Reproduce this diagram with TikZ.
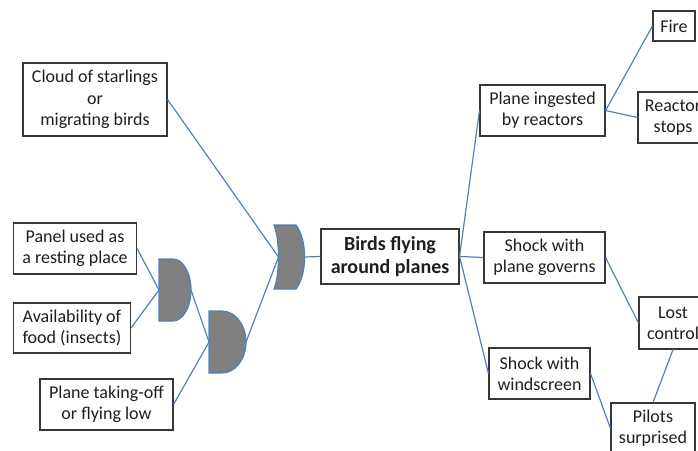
\documentclass[tikz,border=0pt]{standalone}
\usepackage{fontspec}
\setmainfont{Carlito}
\definecolor{linkblue}{RGB}{79,129,189}
\definecolor{gategray}{RGB}{128,128,128}
\definecolor{boxline}{RGB}{55,55,55}

\begin{document}
\begin{tikzpicture}[x=1pt,y=-1pt,
  box/.style={draw=boxline,line width=1.1pt,fill=white,align=center,inner sep=2pt,
    font=\fontsize{18}{21.3}\selectfont,text=black!88},
  link/.style={draw=linkblue,line width=1.2pt},
  gate/.style={fill=gategray,draw=linkblue,line width=1.2pt}]
\useasboundingbox (0,0) rectangle (698,450);

% causes
\node[box,minimum width=144,minimum height=73] (cloud) at (95,99.5) {Cloud of starlings\\or\\migrating birds};
\node[box,minimum width=123,minimum height=51] (panel) at (75,248.5) {Panel used as\\a resting place};
\node[box,minimum width=117,minimum height=50] (food) at (72,328) {Availability of\\food (insects)};
\node[box,minimum width=133,minimum height=51] (takeoff) at (106.5,404.5) {Plane taking-off\\or flying low};

% top event
\node[box,minimum width=138,minimum height=55,font=\fontsize{20}{22.5}\selectfont\bfseries] (birds) at (390,256.5) {Birds flying\\around planes};

% consequences
\node[box,minimum width=125,minimum height=51] (ingested) at (542.5,110.5) {Plane ingested\\by reactors};
\node[box,minimum width=42,minimum height=30] (fire) at (674,26) {Fire};
\node[box,minimum width=70,minimum height=51] (reactor) at (673,117.5) {Reactor\\stops};
\node[box,minimum width=121,minimum height=51] (governs) at (544.5,257.5) {Shock with\\plane governs};
\node[box,minimum width=68,minimum height=52] (lost) at (673,323) {Lost\\control};
\node[box,minimum width=101,minimum height=51] (windscreen) at (539.5,373.5) {Shock with\\windscreen};
\node[box,minimum width=84,minimum height=51] (pilots) at (653,428.5) {Pilots\\surprised};

% gate ports
\coordinate (g1in) at (159,290);
\coordinate (g1out) at (191,290);
\coordinate (g2in) at (209,342);
\coordinate (g2out) at (246,342);
\coordinate (g3in) at (278.5,257);
\coordinate (g3out) at (304.5,257);

% links
\draw[link] (panel.east) -- (g1in);
\draw[link] (food.east) -- (g1in);
\draw[link] (g1out) -- (g2in);
\draw[link] (takeoff.east) -- (g2in);
\draw[link] (g2out) -- (g3in);
\draw[link] (cloud.east) -- (g3in);
\draw[link] (g3out) -- (birds.west);
\draw[link] (birds.east) -- (ingested.west);
\draw[link] (birds.east) -- (governs.west);
\draw[link] (birds.east) -- (windscreen.west);
\draw[link] (ingested.east) -- (fire.west);
\draw[link] (ingested.east) -- (reactor.west);
\draw[link] (governs.east) -- (lost.west);
\draw[link] (windscreen.east) -- (pilots.west);
\draw[link] (lost.south) -- (pilots.north);

% gates
\draw[gate] (159,259) -- (173,259) arc[start angle=-90,end angle=90,x radius=18,y radius=31] -- (159,321) -- cycle;
\draw[gate] (209,311) -- (222,311) arc[start angle=-90,end angle=90,x radius=24,y radius=31] -- (209,373) -- cycle;
\draw[gate] (274,225) -- (296,225) .. controls (307.5,240) and (307.5,274) .. (296,289)
  -- (274,289) .. controls (280,274) and (280,240) .. (274,225) -- cycle;
\end{tikzpicture}
\end{document}
